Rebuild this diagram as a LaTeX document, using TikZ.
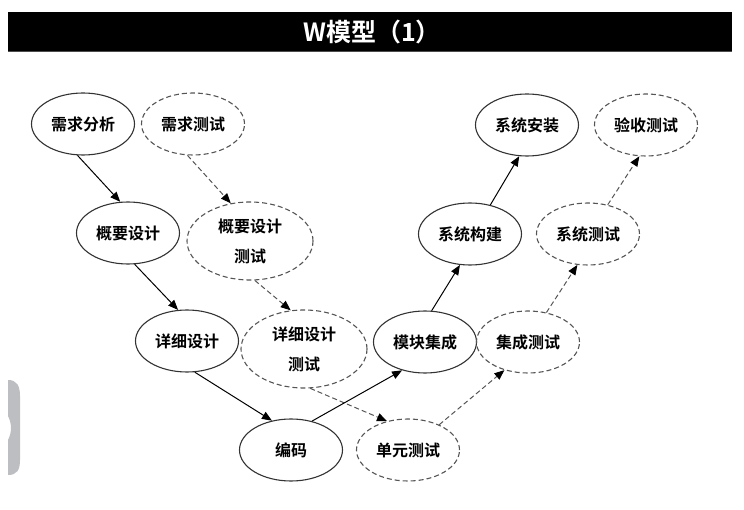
\documentclass[tikz,border=0pt]{standalone}
\usepackage{fontspec}
\newfontfamily\cjk{Noto Sans CJK SC}[BoldFont={Noto Sans CJK SC Bold}]
\usetikzlibrary{shapes.geometric,arrows.meta}
\definecolor{solidline}{HTML}{333333}
\definecolor{dashline}{HTML}{555555}
\definecolor{tabgray}{HTML}{BDBEC2}
\tikzset{
  phase/.style={ellipse, draw=solidline, line width=1.1pt, minimum width=103pt, minimum height=62pt, inner sep=0pt, font=\cjk\bfseries\fontsize{16}{20}\selectfont, align=center},
  testone/.style={ellipse, draw=dashline, line width=1.1pt, dash pattern=on 5pt off 3pt, minimum width=103pt, minimum height=62pt, inner sep=0pt, font=\cjk\bfseries\fontsize{16}{20}\selectfont, align=center},
  testtwo/.style={testone, minimum width=126pt, minimum height=78pt, font=\cjk\bfseries\fontsize{16}{30}\selectfont},
  flow/.style={draw=black, line width=1pt, -{Triangle[length=10pt,width=8pt]}},
  testflow/.style={draw=dashline, line width=1pt, dash pattern=on 5pt off 3pt, -{Triangle[length=10pt,width=8pt,color=black]}},
}
\begin{document}
\begin{tikzpicture}[x=1pt,y=-1pt]
\useasboundingbox (0,0) rectangle (744,510);
% title bar
\fill[black] (8,12) rectangle (732,52);
\draw[line width=1pt, color=black!70] (8,51.5) -- (732,51.5);
\node[text=white, font=\cjk\bfseries\fontsize{25}{28}\selectfont] (title) at (372,32) {W模型（1）};
% side tab
\fill[tabgray] (8,380) .. controls (17,380) and (20,386) .. (20,396) -- (20,460) .. controls (20,470) and (17,475) .. (8,475) -- (8,440) .. controls (10,436) and (11,432) .. (11,428) .. controls (11,424) and (10,420) .. (8,416) -- cycle;
% nodes
\node[phase] (qa) at (83,124) {需求分析};
\node[testone] (qc) at (193,124) {需求测试};
\node[phase] (gy) at (128,233) {概要设计};
\node[testtwo] (gc) at (250,241) {概要设计\\测试};
\node[phase] (xs) at (187,341) {详细设计};
\node[testtwo] (xc) at (304,349) {详细设计\\测试};
\node[phase] (bm) at (291,450) {编码};
\node[testone] (dy) at (408,450) {单元测试};
\node[phase] (mk) at (425,342) {模块集成};
\node[testone] (jc) at (528,342) {集成测试};
\node[phase] (xg) at (470,234) {系统构建};
\node[testone] (xt) at (588,234) {系统测试};
\node[phase] (az) at (527,125) {系统安装};
\node[testone] (ys) at (646,125) {验收测试};
% connectors
\draw[flow] (qa.-100) -- (gy.104);
\draw[testflow] (qc.-100) -- (gc.117);
\draw[flow] (gy.-78) -- (xs.106);
\draw[testflow] (gc.-83) -- (xc.109);
\draw[flow] (xs.-76) -- (bm.123);
\draw[testflow] (xc.-81) -- (dy.126);
\draw[flow] (bm.54) -- (mk.-129);
\draw[testflow] (dy.39) -- (jc.-130);
\draw[flow] (mk.78) -- (xg.-108);
\draw[testflow] (jc.58) -- (xt.-109);
\draw[flow] (xg.55) -- (az.-104);
\draw[testflow] (xt.56) -- (ys.-102);
\end{tikzpicture}
\end{document}
